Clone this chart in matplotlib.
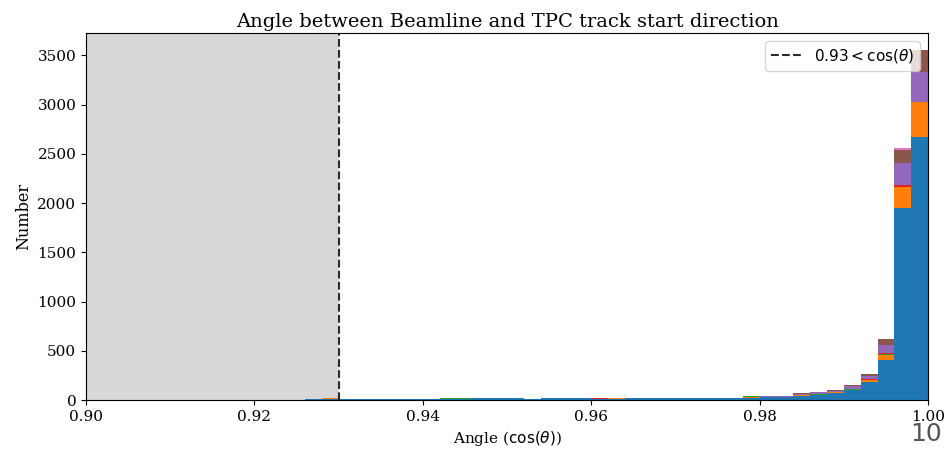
import matplotlib
matplotlib.use("Agg")
import matplotlib.pyplot as plt
import numpy as np

plt.rcParams['font.family'] = 'DejaVu Serif'
plt.rcParams['mathtext.fontset'] = 'dejavusans'

# histogram binning in cos(theta)
bin_edges = np.arange(0.900, 1.0001, 0.002)
bin_centers = 0.5 * (bin_edges[:-1] + bin_edges[1:])

# counts per bin, one list per category (stacked bottom to top)
counts_c0 = [2, 3, 1, 2, 4, 2, 3, 2, 1, 3,
             2, 4, 3, 6, 14, 8, 10, 8, 12, 14,
             12, 15, 14, 16, 22, 20, 10, 18, 20, 19,
             14, 15, 16, 18, 17, 18, 19, 20, 19, 24,
             26, 28, 45, 50, 71, 100, 180, 410, 1947, 2667]
counts_c1 = [0, 0, 1, 0, 0, 0, 0, 1, 0, 0,
             0, 0, 0, 1, 2, 0, 0, 1, 0, 0,
             1, 0, 0, 1, 1, 0, 0, 1, 0, 1,
             0, 1, 1, 0, 1, 0, 1, 1, 2, 2,
             2, 2, 3, 5, 8, 5, 25, 51, 213, 355]
counts_c2 = [1, 0, 0, 1, 0, 1, 0, 0, 1, 2,
             1, 0, 1, 0, 1, 2, 1, 0, 1, 0,
             0, 1, 2, 1, 0, 1, 1, 0, 1, 1,
             1, 6, 6, 2, 1, 1, 0, 1, 1, 10,
             6, 3, 2, 2, 2, 2, 3, 4, 6, 3]
counts_c3 = [0, 0, 0, 0, 0, 0, 0, 0, 0, 0,
             0, 0, 0, 0, 0, 0, 0, 0, 0, 1,
             0, 0, 0, 0, 0, 0, 0, 0, 0, 0,
             6, 1, 0, 0, 0, 0, 0, 0, 1, 1,
             1, 1, 1, 2, 4, 3, 5, 8, 20, 5]
counts_c4 = [0, 1, 0, 0, 0, 1, 0, 0, 0, 0,
             1, 0, 0, 0, 4, 1, 0, 0, 1, 0,
             1, 1, 0, 0, 2, 1, 0, 0, 1, 1,
             0, 0, 1, 1, 0, 1, 1, 0, 1, 2,
             3, 4, 15, 25, 8, 35, 35, 81, 223, 300]
counts_c5 = [0, 0, 0, 0, 0, 0, 0, 0, 0, 0,
             0, 0, 0, 0, 1, 0, 0, 0, 0, 0,
             0, 0, 0, 0, 0, 0, 0, 0, 0, 0,
             0, 0, 0, 0, 0, 0, 0, 0, 0, 0,
             0, 1, 1, 2, 10, 12, 20, 61, 131, 220]
counts_c6 = [0, 0, 0, 0, 0, 0, 0, 0, 0, 0,
             0, 0, 0, 0, 0, 0, 0, 0, 0, 0,
             0, 0, 0, 0, 0, 0, 0, 0, 0, 0,
             0, 0, 0, 0, 0, 0, 0, 0, 0, 0,
             0, 0, 0, 0, 0, 0, 1, 2, 20, 0]

all_counts = [counts_c0, counts_c1, counts_c2, counts_c3,
              counts_c4, counts_c5, counts_c6]

cut_value = 0.93

fig, ax = plt.subplots(figsize=(9.46, 4.51), dpi=100)
fig.subplots_adjust(left=0.091, right=0.981, top=0.927, bottom=0.113)

# region removed by the cut
ax.axvspan(0.90, cut_value, color='#d7d7d7', zorder=0, lw=0)

ax.hist([bin_centers] * len(all_counts), bins=bin_edges, weights=all_counts,
        stacked=True, histtype='stepfilled', zorder=1)

ax.axvline(cut_value, color='#2a2a2a', linestyle='--', lw=1.5,
           label=r'$0.93 < \cos(\theta)$', zorder=2)

ax.set_xlim(0.90, 1.00)
ax.set_title("Angle between Beamline and TPC track start direction",
             fontsize=14, pad=4)
ax.set_xlabel(r"Angle ($\cos(\theta)$)", fontsize=11)
ax.set_ylabel("Number", fontsize=11.5)
ax.tick_params(labelsize=11)
ax.legend(loc='upper right', fontsize=11)

fig.text(0.996, 0.012, "10", fontsize=18, color='#555555',
         family='DejaVu Sans', ha='right', va='bottom')

fig.savefig("out.png", dpi=100)
